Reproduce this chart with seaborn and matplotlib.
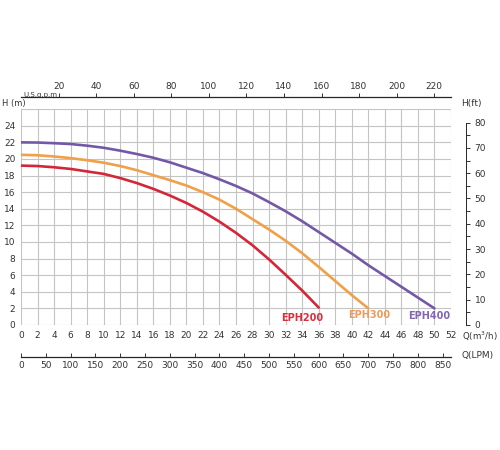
import matplotlib
matplotlib.use("Agg")
import matplotlib.pyplot as plt
import seaborn as sns
import pandas as pd

# pump curves: flow Q (m3/h) vs head H (m)
q_eph200 = [0, 2, 4, 6, 8, 10, 12, 14, 16, 18, 20, 22, 24, 26, 28, 30, 32, 34, 36]
h_eph200 = [19.2, 19.15, 19.0, 18.8, 18.5, 18.2, 17.7, 17.1, 16.4, 15.6,
            14.7, 13.65, 12.45, 11.1, 9.6, 7.9, 6.05, 4.15, 2.1]

q_eph300 = [0, 2, 4, 6, 8, 10, 12, 14, 16, 18, 20, 22, 24, 26, 28, 30, 32, 34, 36, 38, 40, 42]
h_eph300 = [20.5, 20.45, 20.3, 20.1, 19.85, 19.55, 19.15, 18.65, 18.05, 17.45,
            16.8, 16.0, 15.1, 14.0, 12.75, 11.5, 10.15, 8.65, 7.0, 5.3, 3.6, 2.0]

q_eph400 = [0, 2, 4, 6, 8, 10, 12, 14, 16, 18, 20, 22, 24, 26, 28, 30, 32, 34,
            36, 38, 40, 42, 44, 46, 48, 50]
h_eph400 = [22.0, 21.98, 21.9, 21.8, 21.6, 21.35, 21.0, 20.6, 20.15, 19.6,
            18.95, 18.3, 17.55, 16.75, 15.85, 14.8, 13.7, 12.5, 11.2, 9.9,
            8.6, 7.2, 5.9, 4.6, 3.3, 2.0]

models = ["EPH200", "EPH300", "EPH400"]
colors = ["#d42638", "#f0a048", "#7458a8"]
text_colors = ["#d8303c", "#f09a5a", "#8266b4"]

q_ticks = list(range(0, 54, 2))
h_ticks = list(range(0, 28, 2))
ft_ticks = list(range(0, 90, 10))
gpm_ticks = list(range(20, 240, 20))
lpm_ticks = list(range(0, 900, 50))

df = pd.concat([
    pd.DataFrame({"Q": q_eph200, "H": h_eph200, "model": "EPH200"}),
    pd.DataFrame({"Q": q_eph300, "H": h_eph300, "model": "EPH300"}),
    pd.DataFrame({"Q": q_eph400, "H": h_eph400, "model": "EPH400"}),
])

sns.set_style("white")
plt.rcParams['font.family'] = ['DejaVu Sans']

fig = plt.figure(figsize=(5, 4.5), dpi=100)
ax = fig.add_axes([0.042, 0.2778, 0.86, 0.4796])

sns.lineplot(data=df, x="Q", y="H", hue="model", hue_order=models,
             palette=colors, linewidth=1.9, legend=False, ax=ax)

ax.set_xlim(0, 52)
ax.set_ylim(0, 26)
ax.set_xticks(q_ticks)
ax.set_xticklabels([str(t) for t in q_ticks], fontsize=6.5, color="#333333")
ax.set_yticks(h_ticks)
ax.set_yticklabels([str(t) if t < 26 else "" for t in h_ticks], fontsize=6.5, color="#333333")
ax.tick_params(axis="both", length=0, pad=4)
ax.grid(True, color="#c4c4c4", linewidth=0.8)
ax.set_axisbelow(True)
for s in ax.spines.values():
    s.set_visible(False)
ax.set_xlabel("")
ax.set_ylabel("")

# model labels near the end of each curve
label_pos = [(34, 0.9), (42.1, 1.2), (49.4, 1.1)]
for name, tc, (qx, hy) in zip(models, text_colors, label_pos):
    ax.text(qx, hy, name, color=tc, fontsize=7, fontweight="bold",
            ha="center", va="center")

# right axis in feet
ax_ft = ax.twinx()
ax_ft.set_ylim(0, 26 * 3.28084)
ax_ft.set_yticks(ft_ticks)
ax_ft.set_yticks(list(range(5, 80, 10)), minor=True)
ax_ft.tick_params(axis="y", which="both", direction="out", length=3,
                  width=0.7, color="#333333", labelsize=6.5, labelcolor="#333333", pad=3)
for k in ["top", "left", "bottom"]:
    ax_ft.spines[k].set_visible(False)
ax_ft.spines["right"].set_position(("outward", 11))
ax_ft.spines["right"].set_bounds(0, 80)
ax_ft.spines["right"].set_linewidth(0.7)

# top axis in US gpm
ax_gpm = ax.twiny()
ax_gpm.set_xlim(0, 52 * 4.40287)
ax_gpm.set_xticks(gpm_ticks)
ax_gpm.tick_params(axis="x", direction="out", length=3, width=0.7, color="#333333",
                   labelsize=6.5, labelcolor="#333333", pad=1)
for k in ["left", "right", "bottom"]:
    ax_gpm.spines[k].set_visible(False)
ax_gpm.spines["top"].set_position(("outward", 9))
ax_gpm.spines["top"].set_linewidth(0.9)

# bottom axis in LPM
ax_lpm = ax.twiny()
ax_lpm.set_xlim(0, 52 * 16.6667)
ax_lpm.xaxis.set_ticks_position("bottom")
ax_lpm.xaxis.set_label_position("bottom")
ax_lpm.set_xticks(lpm_ticks)
ax_lpm.tick_params(axis="x", direction="in", length=3, width=0.7, color="#333333",
                   labelsize=6.5, labelcolor="#333333", pad=3)
for k in ["left", "right", "top"]:
    ax_lpm.spines[k].set_visible(False)
ax_lpm.spines["bottom"].set_position(("outward", 23))
ax_lpm.spines["bottom"].set_linewidth(0.9)

fig.text(0.004, 0.769, "H (m)", fontsize=6, color="#333333", va="center")
fig.text(0.046, 0.789, "U.S.g.p.m", fontsize=5, color="#333333", va="center")
fig.text(0.922, 0.769, "H(ft)", fontsize=6.5, color="#333333", va="center")
fig.text(0.924, 0.252, "Q(m$^3$/h)", fontsize=6.2, color="#333333", va="center")
fig.text(0.924, 0.209, "Q(LPM)", fontsize=6.5, color="#333333", va="center")

fig.savefig("out.png", dpi=100)
